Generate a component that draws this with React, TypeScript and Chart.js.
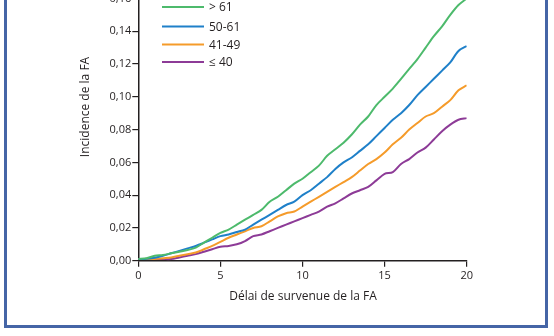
import { useEffect, useRef } from 'react';
import { Chart, registerables } from 'chart.js';

Chart.register(...registerables);

const years = [0, 0.5, 1, 1.5, 2, 2.5, 3, 3.5, 4, 4.5, 5, 5.5, 6, 6.5, 7, 7.5, 8, 8.5, 9, 9.5, 10, 10.5, 11, 11.5, 12, 12.5, 13, 13.5, 14, 14.5, 15, 15.5, 16, 16.5, 17, 17.5, 18, 18.5, 19, 19.5, 20];

const over61 = [0.001, 0.0015, 0.003, 0.0035, 0.0045, 0.0055, 0.0065, 0.008, 0.011, 0.014, 0.017, 0.019, 0.022, 0.025, 0.028, 0.031, 0.036, 0.039, 0.043, 0.047, 0.050, 0.054, 0.058, 0.064, 0.068, 0.072, 0.077, 0.083, 0.088, 0.095, 0.100, 0.105, 0.111, 0.117, 0.123, 0.130, 0.137, 0.143, 0.150, 0.156, 0.160];
const from50to61 = [0.001, 0.0012, 0.0018, 0.003, 0.0045, 0.006, 0.0075, 0.009, 0.011, 0.013, 0.015, 0.016, 0.0175, 0.019, 0.022, 0.025, 0.028, 0.031, 0.034, 0.036, 0.040, 0.043, 0.047, 0.051, 0.056, 0.060, 0.063, 0.067, 0.071, 0.076, 0.081, 0.086, 0.090, 0.095, 0.101, 0.106, 0.111, 0.116, 0.121, 0.128, 0.131];
const from41to49 = [0.001, 0.001, 0.001, 0.0015, 0.002, 0.003, 0.004, 0.005, 0.007, 0.009, 0.0115, 0.014, 0.016, 0.018, 0.020, 0.021, 0.024, 0.027, 0.029, 0.030, 0.033, 0.036, 0.039, 0.042, 0.045, 0.048, 0.051, 0.055, 0.059, 0.062, 0.066, 0.071, 0.075, 0.080, 0.084, 0.088, 0.090, 0.094, 0.098, 0.104, 0.107];
const upTo40 = [0.001, 0.001, 0.001, 0.001, 0.001, 0.002, 0.003, 0.004, 0.0055, 0.007, 0.0085, 0.009, 0.010, 0.012, 0.015, 0.016, 0.018, 0.020, 0.022, 0.024, 0.026, 0.028, 0.030, 0.033, 0.035, 0.038, 0.041, 0.043, 0.045, 0.049, 0.053, 0.054, 0.059, 0.062, 0.066, 0.069, 0.074, 0.079, 0.083, 0.086, 0.087];

const seriesLabels = ['> 61', '50-61', '41-49', '≤ 40'];
const seriesColors = ['#4dba6c', '#1f80c9', '#f59b2a', '#8d3b97'];
const seriesValues = [over61, from50to61, from41to49, upTo40];

const xTicks = [0, 5, 10, 15, 20];
const yMax = 0.16;
const yStep = 0.02;

const xTitle = 'Délai de survenue de la FA';
const yTitle = 'Incidence de la FA';

const FONT = '"Open Sans", "DejaVu Sans", sans-serif';
const INK = '#231f20';
const OFFSET = 20; // canvas is shifted up by this many px

export default function App() {
  const ref = useRef<HTMLCanvasElement | null>(null);

  useEffect(() => {
    if (!ref.current) return;
    const overlay = {
      id: 'overlay',
      afterDraw(chart: any) {
        const ctx = chart.ctx;
        ctx.save();
        ctx.fillStyle = INK;
        ctx.font = `12px ${FONT}`;
        // legend
        const lx0 = 162, lx1 = 204, tx = 209;
        const rows = [7, 26.5, 44.5, 62];
        seriesLabels.forEach((lab, i) => {
          const y = rows[i] + OFFSET;
          ctx.strokeStyle = seriesColors[i];
          ctx.lineWidth = 2.2;
          ctx.beginPath();
          ctx.moveTo(lx0, y);
          ctx.lineTo(lx1, y);
          ctx.stroke();
          ctx.textAlign = 'left';
          ctx.textBaseline = 'middle';
          ctx.fillText(lab, tx, y + 1);
        });
        // x title
        ctx.textAlign = 'center';
        ctx.textBaseline = 'middle';
        ctx.fillText(xTitle, 303, 297 + OFFSET);
        // y title
        ctx.translate(86, 107 + OFFSET);
        ctx.rotate(-Math.PI / 2);
        ctx.fillText(yTitle, 0, 0);
        ctx.restore();
      },
    };

    const chart = new Chart(ref.current, {
      type: 'line',
      data: {
        datasets: seriesValues.map((vals, i) => ({
          label: seriesLabels[i],
          data: vals.map((v, j) => ({ x: years[j], y: v })),
          borderColor: seriesColors[i],
          backgroundColor: seriesColors[i],
          borderWidth: 2,
          pointRadius: 0,
          tension: 0.3,
          fill: false,
        })),
      },
      options: {
        responsive: false,
        animation: false,
        layout: { padding: { left: 0, right: 87.3, top: 18.5, bottom: 0 } },
        plugins: { legend: { display: false }, tooltip: { enabled: false } },
        scales: {
          x: {
            type: 'linear',
            min: 0,
            max: 20,
            afterBuildTicks: (scale: any) => {
              scale.ticks = xTicks.map((v) => ({ value: v }));
            },
            afterFit: (scale: any) => {
              scale.height = 356 - 280.7;
            },
            ticks: {
              color: INK,
              font: { family: FONT, size: 11 },
              padding: 3,
              maxRotation: 0,
            },
            grid: {
              display: true,
              drawOnChartArea: false,
              drawTicks: true,
              tickLength: 6,
              color: INK,
              lineWidth: 1.2,
            },
            border: { display: true, color: INK, width: 1.5 },
          },
          y: {
            type: 'linear',
            min: 0,
            max: yMax,
            afterFit: (scale: any) => {
              scale.width = 138.3;
            },
            ticks: {
              stepSize: yStep,
              color: INK,
              font: { family: FONT, size: 11 },
              padding: 1,
              callback: (v: any) => Number(v).toFixed(2).replace('.', ','),
            },
            grid: {
              display: true,
              drawOnChartArea: false,
              drawTicks: true,
              tickLength: 6,
              color: INK,
              lineWidth: 1.2,
            },
            border: { display: true, color: INK, width: 1.5 },
          },
        },
      },
      plugins: [overlay],
    } as any);
    return () => chart.destroy();
  }, []);

  return (
    <div style={{ position: 'absolute', left: 0, top: 0, width: 554, height: 336, overflow: 'hidden', background: '#fff' }}>
      <div
        style={{
          position: 'absolute',
          left: 4,
          top: -10,
          width: 544,
          height: 337.5,
          boxSizing: 'border-box',
          border: '3px solid #4565a6',
        }}
      />
      <canvas
        ref={ref}
        width={554}
        height={356}
        style={{ position: 'absolute', left: 0, top: -OFFSET, width: 554, height: 356 }}
      />
    </div>
  );
}
